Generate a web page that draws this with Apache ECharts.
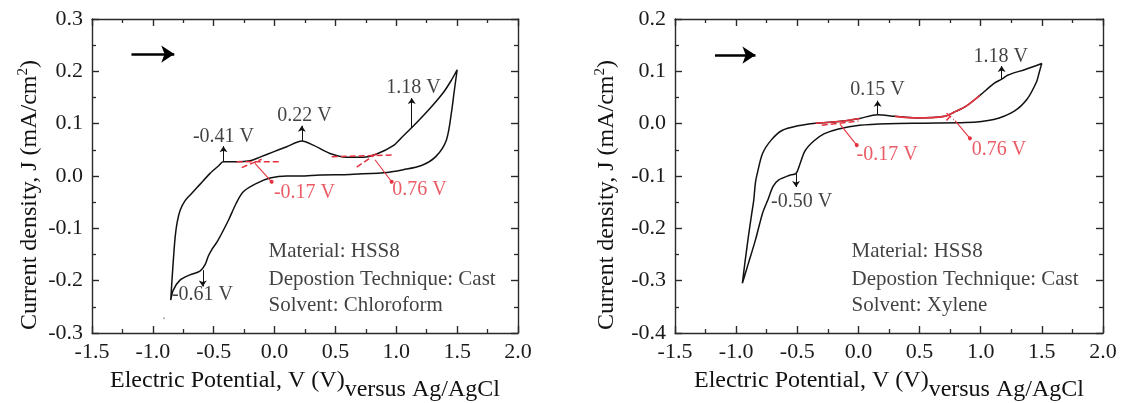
<!DOCTYPE html>
<html><head><meta charset="utf-8">
<script src="https://cdn.jsdelivr.net/npm/echarts@6/dist/echarts.min.js"></script>
<style>html,body{margin:0;padding:0;background:#fff;}#c{width:1124px;height:403px;}</style>
</head><body><div id="c"></div>
<script>
// ---------- axis ranges / ticks ----------
const xRange = [-1.5, 2.0, 0.5];
const leftYRange = [-0.3, 0.3, 0.1];
const rightYRange = [-0.4, 0.2, 0.1];

// ---------- left panel (Chloroform) : CV loop ----------
const leftForward = [[-0.853,-0.237],[-0.843,-0.200],[-0.830,-0.155],[-0.816,-0.115],[-0.800,-0.088],[-0.775,-0.065],[-0.735,-0.047],[-0.680,-0.033],[-0.613,-0.016],[-0.530,0.005],[-0.462,0.019],[-0.421,0.027],[-0.311,0.027],[-0.202,0.029],[-0.120,0.036],[-0.010,0.046],[0.100,0.056],[0.224,0.067],[0.318,0.059],[0.455,0.043],[0.593,0.036],[0.729,0.036],[0.839,0.042],[0.975,0.058],[1.050,0.075],[1.130,0.093],[1.265,0.126],[1.382,0.158],[1.450,0.182],[1.500,0.203]];
const leftReverse = [[1.500,0.203],[1.475,0.160],[1.456,0.126],[1.412,0.069],[1.324,0.037],[1.207,0.020],[1.058,0.012],[0.893,0.006],[0.620,0.003],[0.373,0.002],[0.209,0.000],[0.100,0.000],[-0.038,-0.004],[-0.147,-0.014],[-0.257,-0.030],[-0.317,-0.053],[-0.378,-0.084],[-0.470,-0.125],[-0.517,-0.141],[-0.544,-0.153],[-0.572,-0.170],[-0.613,-0.182],[-0.695,-0.189],[-0.777,-0.199],[-0.832,-0.218],[-0.853,-0.237]];
const leftStrayDot = [[-0.908,-0.272]];

// ---------- right panel (Xylene) : CV loop ----------
const rightForward = [[-0.949,-0.305],[-0.929,-0.267],[-0.900,-0.216],[-0.872,-0.171],[-0.856,-0.146],[-0.842,-0.112],[-0.827,-0.095],[-0.784,-0.057],[-0.712,-0.031],[-0.625,-0.013],[-0.495,-0.004],[-0.350,0.001],[-0.163,0.004],[0.010,0.010],[0.155,0.017],[0.299,0.014],[0.473,0.011],[0.704,0.014],[0.791,0.023],[0.878,0.033],[0.993,0.054],[1.109,0.077],[1.171,0.085],[1.224,0.093],[1.369,0.104],[1.499,0.115]];
const rightReverse = [[1.499,0.115],[1.475,0.095],[1.457,0.080],[1.380,0.047],[1.275,0.024],[1.106,0.008],[0.878,0.002],[0.531,0.001],[0.242,0.000],[0.010,-0.003],[-0.163,-0.010],[-0.278,-0.019],[-0.365,-0.033],[-0.437,-0.052],[-0.481,-0.079],[-0.510,-0.095],[-0.567,-0.099],[-0.654,-0.108],[-0.698,-0.120],[-0.741,-0.146],[-0.784,-0.171],[-0.842,-0.222],[-0.900,-0.267],[-0.949,-0.305]];

// ---------- annotations (data coordinates) ----------
const leftPeakNames = ['-0.41 V','0.22 V','1.18 V','-0.61 V'];
const leftPeakLabelPos = [[-0.42,0.075],[0.246,0.115],[1.141,0.168],[-0.592,-0.227]];
const leftPeakArrows = [[-0.42,0.027,0.057],[0.224,0.067,0.096],[1.127,0.093,0.149],[-0.59,-0.180,-0.211]];
const leftOnsetNames = ['-0.17 V','0.76 V'];
const leftOnsetLabelPos = [[0.246,-0.032],[1.191,-0.027]];
const leftOnsetCurves = [[-0.161,0.024,-0.024,-0.011],[0.825,0.031,0.962,-0.011]];
const leftTangents = [[-0.311,0.027,0.045,0.027],[-0.270,0.016,-0.106,0.032],[0.469,0.037,0.962,0.040],[0.675,0.017,0.852,0.045]];
const leftScanArrow = [-1.176,-0.824,0.233];
const leftInfo = ['Material: HSS8','Depostion Technique: Cast','Solvent: Chloroform'];
const leftInfoPos = [[-0.054,-0.145],[-0.054,-0.197],[-0.054,-0.248]];

const rightPeakNames = ['0.15 V','1.18 V','-0.50 V'];
const rightPeakLabelPos = [[0.155,0.064],[1.164,0.128],[-0.465,-0.149]];
const rightPeakArrows = [[0.157,0.017,0.044],[1.171,0.085,0.110],[-0.51,-0.096,-0.121]];
const rightOnsetNames = ['-0.17 V','0.76 V'];
const rightOnsetLabelPos = [[0.234,-0.060],[1.150,-0.050]];
const rightOnsetCurves = [[-0.151,-0.001,-0.014,-0.041],[0.790,0.006,0.912,-0.028]];
const rightRedRanges = [[-0.44,0.01],[0.28,1.01]];
const rightTangents = [[-0.30,-0.003,0.0,0.005],[0.72,0.006,0.78,0.022],[0.72,0.020,0.78,0.008]];
const rightScanArrow = [-1.173,-0.842,0.131];
const rightInfo = ['Material: HSS8','Depostion Technique: Cast','Solvent: Xylene'];
const rightInfoPos = [[-0.061,-0.245],[-0.061,-0.297],[-0.061,-0.348]];

// ---------- styling ----------
const FONT = "'Liberation Serif','Times New Roman',serif";
const INK = '#111';
const RED = '#e5323e';
const fmt = v => (Math.abs(v) < 1e-9 ? 0 : v).toFixed(1);

function axisCommon() {
  return {
    axisLine:{show:true, onZero:false, lineStyle:{color:'#2a2a2a', width:1.4}},
    axisTick:{show:true, inside:true, length:7, lineStyle:{color:'#2a2a2a', width:1.4}},
    minorTick:{show:true, splitNumber:2, length:4, lineStyle:{color:'#2a2a2a', width:1.3}},
    splitLine:{show:false}, minorSplitLine:{show:false}
  };
}
function xAx(grid, pos, showLabel) {
  return Object.assign(axisCommon(), {
    type:'value', gridIndex:grid, position:pos, min:xRange[0], max:xRange[1], interval:xRange[2],
    axisLabel:{show:showLabel, margin:8, fontSize:22, fontFamily:FONT, color:'#1a1a1a', formatter:fmt}
  });
}
function yAx(grid, pos, r, showLabel) {
  return Object.assign(axisCommon(), {
    type:'value', gridIndex:grid, position:pos, min:r[0], max:r[1], interval:r[2],
    axisLabel:{show:showLabel, margin:9, fontSize:22, fontFamily:FONT, color:'#1a1a1a', formatter:fmt}
  });
}

function curveSeries(ax, data, color, width) {
  return {type:'line', xAxisIndex:ax, yAxisIndex:ax, data:data, smooth:0.3, showSymbol:false, silent:true,
    lineStyle:{color:color, width:width}, z:3, animation:false};
}
function textSeries(ax, names, pos, color, size, leftAlign) {
  return {type:'scatter', xAxisIndex:ax, yAxisIndex:ax, symbolSize:1, silent:true, animation:false,
    itemStyle:{color:'transparent'}, z:6,
    label:{show:true, formatter:'{b}', position: leftAlign ? 'right' : 'inside', distance:0,
      color:color, fontSize:size, fontFamily:FONT, align: leftAlign ? 'left' : 'center', verticalAlign:'middle'},
    data: names.map((n,i)=>({name:n, value:pos[i]}))};
}
function arrowSeries(ax, arrows, color) {
  return {type:'line', xAxisIndex:ax, yAxisIndex:ax, data:[], silent:true, animation:false,
    markLine:{silent:true, animation:false, symbol:['none','arrow'], symbolSize:6, label:{show:false},
      lineStyle:{color:color, width:1, type:'solid'},
      data: arrows.map(a=>[{coord:[a[0],a[1]]},{coord:[a[0],a[2]]}])}};
}
function scanArrowSeries(ax, a) {
  return {type:'line', xAxisIndex:ax, yAxisIndex:ax, data:[], silent:true, animation:false,
    markLine:{silent:true, animation:false, symbol:['none','arrow'], symbolSize:13, label:{show:false},
      lineStyle:{color:'#000', width:2.6, type:'solid'},
      data:[[{coord:[a[0],a[2]]},{coord:[a[1],a[2]]}]]}};
}
function redCurveSeries(ax, curves) {
  return {type:'line', xAxisIndex:ax, yAxisIndex:ax, data:[], silent:true, animation:false,
    markLine:{silent:true, animation:false, symbol:['none','circle'], symbolSize:4, label:{show:false},
      lineStyle:{color:RED, width:1.1, type:'solid', curveness:-0.5},
      data: curves.map(c=>[{coord:[c[0],c[1]]},{coord:[c[2],c[3]]}])}};
}
function tangentSeries(ax, segs, dashed) {
  return segs.map(s=>({type:'line', xAxisIndex:ax, yAxisIndex:ax, data:[[s[0],s[1]],[s[2],s[3]]],
    showSymbol:false, silent:true, animation:false, z:4,
    lineStyle:{color:RED, width:1.5, type: dashed ? [6,3] : 'solid'}}));
}
function inRange(data, r) { return data.filter(p => p[0] >= r[0] && p[0] <= r[1]); }

const series = [
  curveSeries(0, leftForward.concat(leftReverse.slice(1)), INK, 1.5),
  {type:'scatter', xAxisIndex:0, yAxisIndex:0, data:leftStrayDot, symbolSize:2, itemStyle:{color:'#888'}, silent:true, animation:false},
  ...tangentSeries(0, leftTangents, true),
  redCurveSeries(0, leftOnsetCurves),
  arrowSeries(0, leftPeakArrows, INK),
  scanArrowSeries(0, leftScanArrow),
  textSeries(0, leftPeakNames, leftPeakLabelPos, INK, 20, false),
  textSeries(0, leftOnsetNames, leftOnsetLabelPos, RED, 20, false),
  textSeries(0, leftInfo, leftInfoPos, INK, 21, true),

  curveSeries(2, rightForward.concat(rightReverse.slice(1)), INK, 1.5),
  curveSeries(2, inRange(rightForward, rightRedRanges[0]), RED, 1.6),
  curveSeries(2, inRange(rightForward, rightRedRanges[1]), RED, 1.6),
  ...tangentSeries(2, rightTangents, true),
  redCurveSeries(2, rightOnsetCurves),
  arrowSeries(2, rightPeakArrows, INK),
  scanArrowSeries(2, rightScanArrow),
  textSeries(2, rightPeakNames, rightPeakLabelPos, INK, 20, false),
  textSeries(2, rightOnsetNames, rightOnsetLabelPos, RED, 20, false),
  textSeries(2, rightInfo, rightInfoPos, INK, 21, true)
];

function xTitle(cx) {
  return {type:'text', x:cx, y:381, silent:true,
    style:{text:'{a|Electric Potential, V (V)}{b|versus Ag/AgCl}', align:'center', verticalAlign:'middle',
      rich:{a:{fontSize:24, fontFamily:FONT, fill:INK}, b:{fontSize:24, fontFamily:FONT, fill:INK, padding:[18,0,0,0]}}}};
}
function yTitle(cx) {
  return {type:'text', x:cx, y:195, rotation:Math.PI/2, silent:true,
    style:{text:'{a|Current density, J (mA/cm}{s|2}{a|)}', align:'center', verticalAlign:'middle',
      rich:{a:{fontSize:24, fontFamily:FONT, fill:INK}, s:{fontSize:15, fontFamily:FONT, fill:INK, padding:[0,0,14,0]}}}};
}

const chart = echarts.init(document.getElementById('c'), null, {renderer:'canvas'});
chart.setOption({
  backgroundColor:'#fff',
  animation:false,
  grid:[{left:92, top:19, width:426, height:314}, {left:675, top:19, width:428, height:314}],
  xAxis:[xAx(0,'bottom',true), xAx(0,'top',false), xAx(1,'bottom',true), xAx(1,'top',false)],
  yAxis:[yAx(0,'left',leftYRange,true), yAx(0,'right',leftYRange,false), yAx(1,'left',rightYRange,true), yAx(1,'right',rightYRange,false)],
  series: series,
  graphic:[xTitle(305), xTitle(889), yTitle(30), yTitle(607)]
});
</script></body></html>
